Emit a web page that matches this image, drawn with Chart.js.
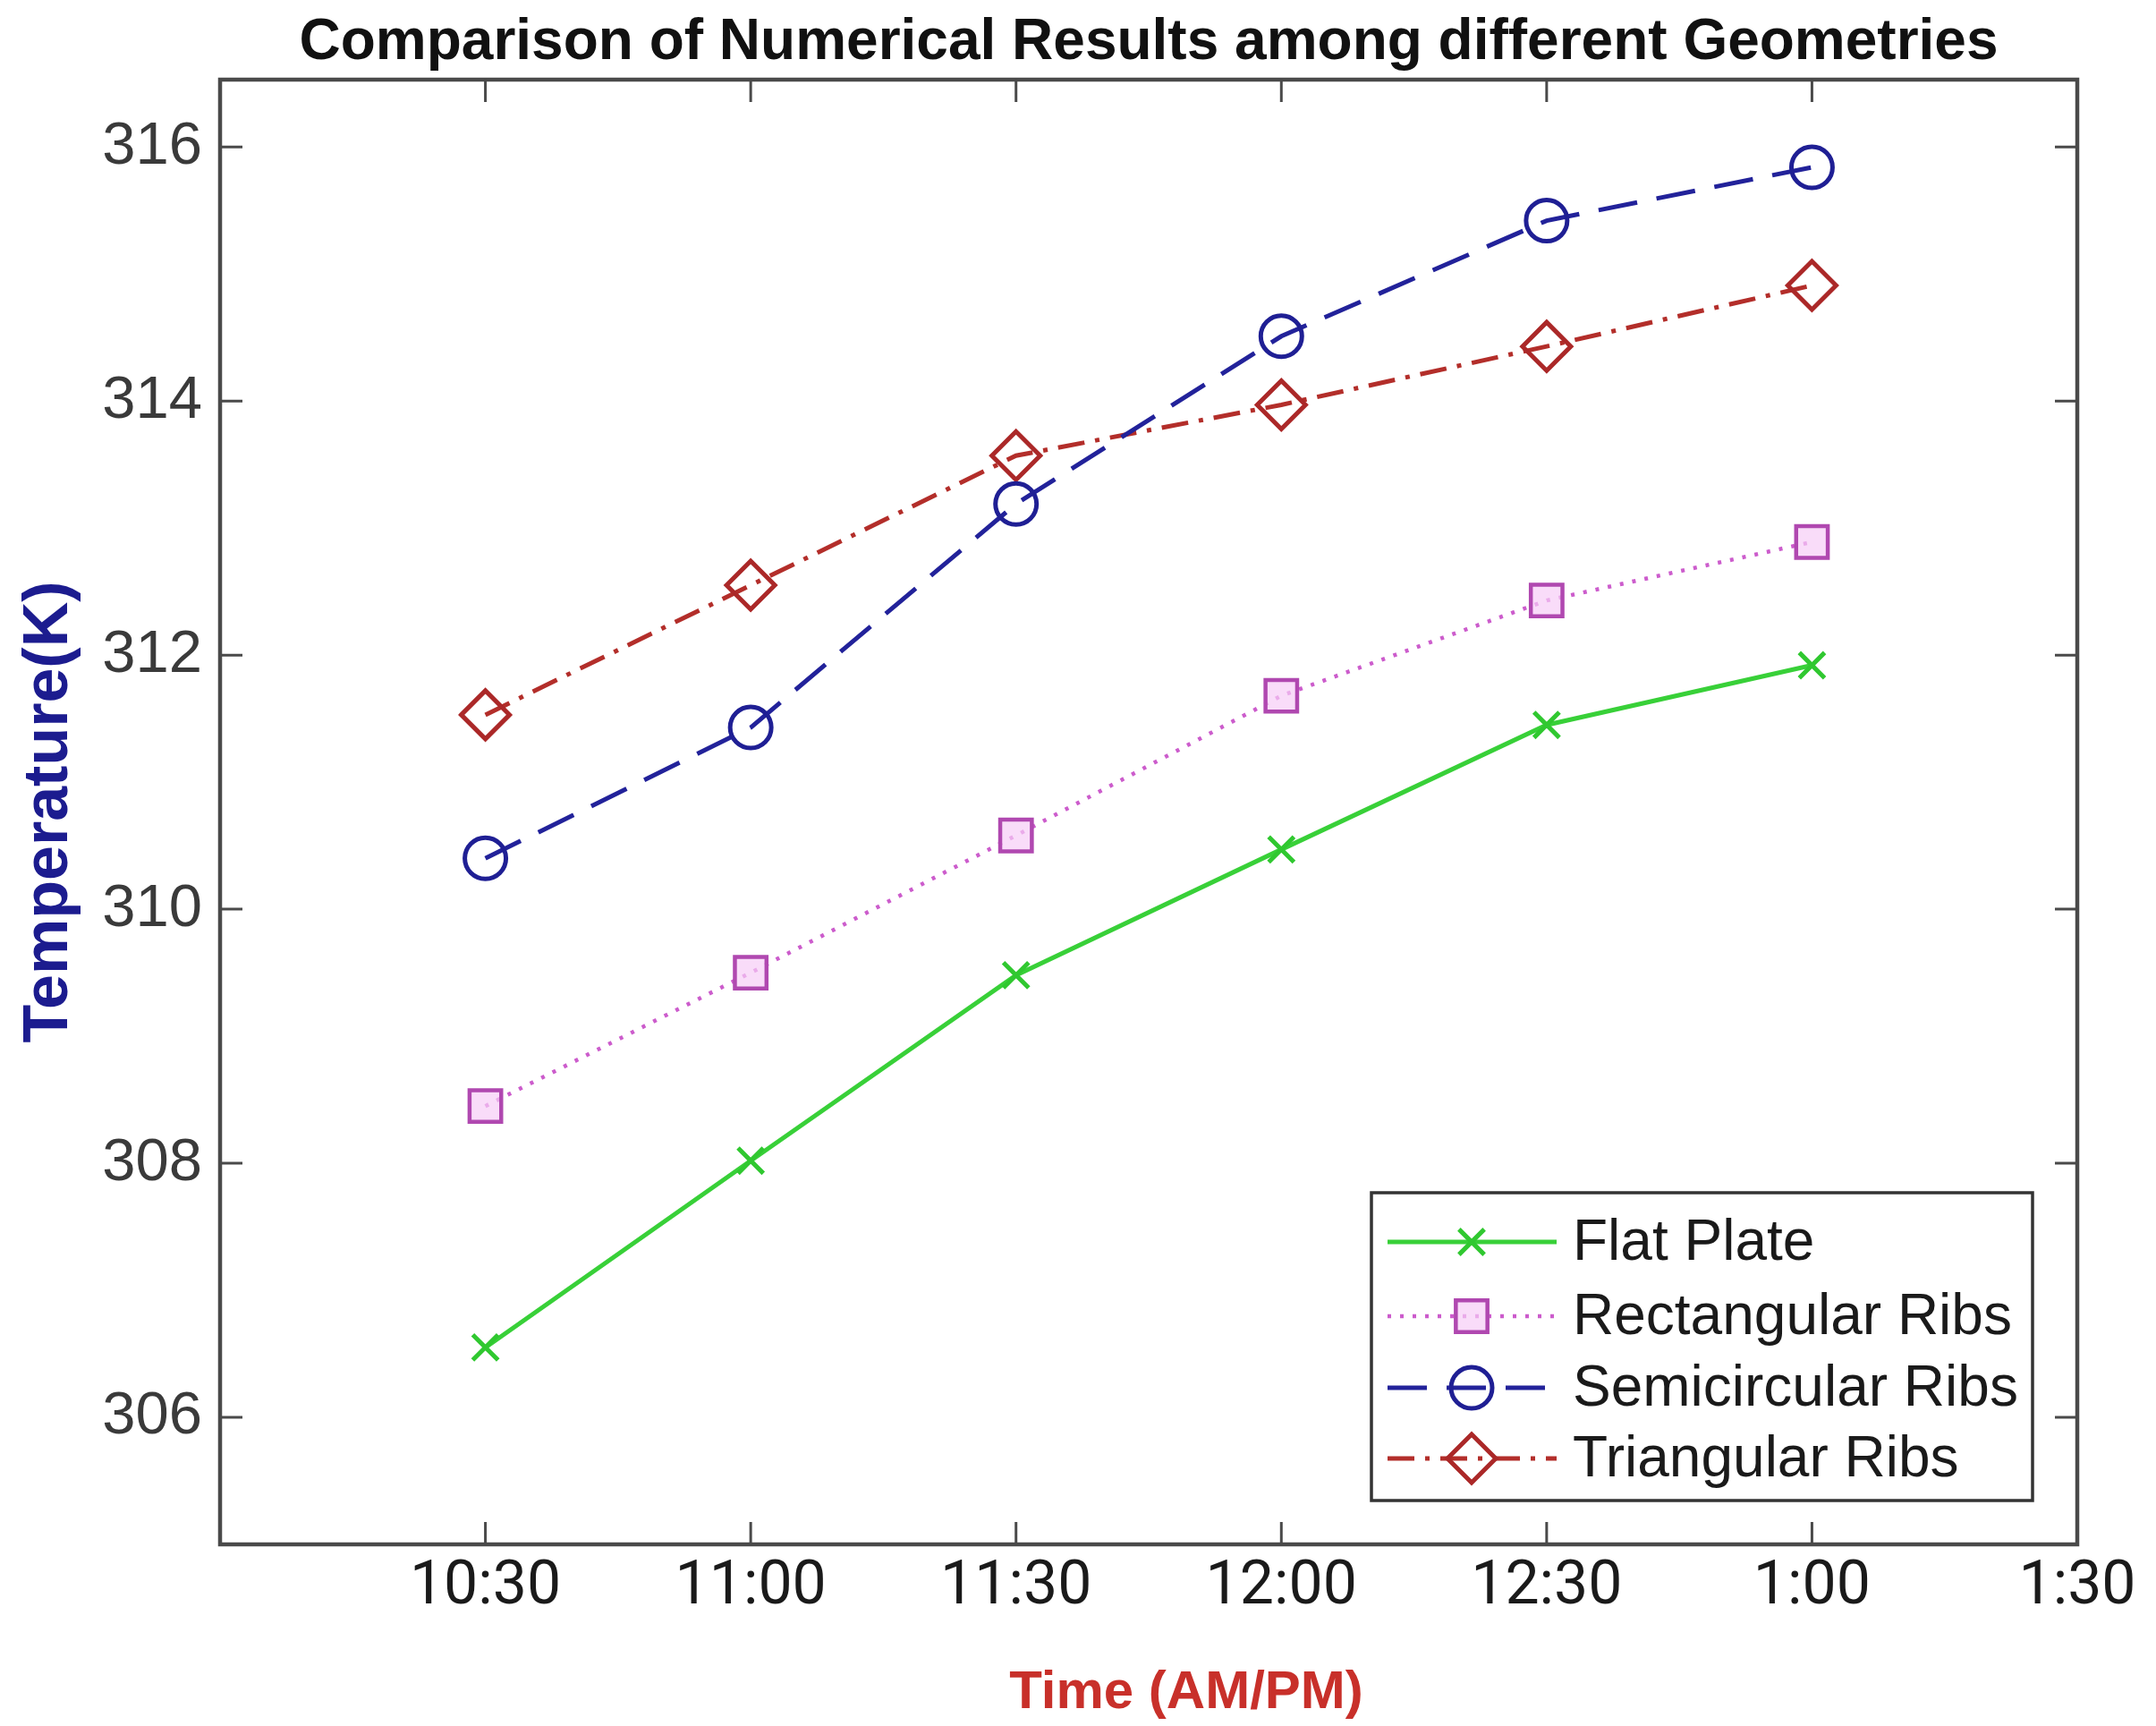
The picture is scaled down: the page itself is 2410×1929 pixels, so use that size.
<!DOCTYPE html>
<html>
<head>
<meta charset="utf-8">
<script src="https://cdn.jsdelivr.net/npm/chart.js@4.4.1/dist/chart.umd.min.js"></script>
<style>
html,body{margin:0;padding:0;background:#ffffff;}
#wrap{width:2410px;height:1929px;}
</style>
</head>
<body>
<div id="wrap"><canvas id="c" width="2410" height="1929"></canvas></div>
<script>
// ---- data ----
const axisLabels = ['10:00', '10:30', '11:00', '11:30', '12:00', '12:30', '1:00', '1:30'];
const times = ['10:30', '11:00', '11:30', '12:00', '12:30', '1:00'];
const yTickValues = [306, 308, 310, 312, 314, 316];
const flatPlate = [306.55, 308.02, 309.48, 310.47, 311.45, 311.92];
const rectangularRibs = [308.45, 309.50, 310.58, 311.68, 312.43, 312.89];
const semicircularRibs = [310.40, 311.43, 313.19, 314.51, 315.42, 315.84];
const triangularRibs = [311.53, 312.55, 313.57, 313.97, 314.43, 314.91];
const seriesNames = ['Flat Plate', 'Rectangular Ribs', 'Semicircular Ribs', 'Triangular Ribs'];
const xTitle = 'Time (AM/PM)';

function pts(arr) { return times.map((t, i) => ({ x: t, y: arr[i] })); }

function drawMarker(ctx, style, x, y, r) {
  ctx.beginPath();
  if (style === 'circle') {
    ctx.arc(x, y, r, 0, Math.PI * 2);
  } else if (style === 'rect') {
    const s = Math.SQRT1_2 * r;
    ctx.rect(x - s, y - s, 2 * s, 2 * s);
  } else if (style === 'rectRot') {
    ctx.moveTo(x - r, y); ctx.lineTo(x, y - r); ctx.lineTo(x + r, y); ctx.lineTo(x, y + r); ctx.closePath();
  } else if (style === 'crossRot') {
    const o = Math.SQRT1_2 * r;
    ctx.moveTo(x - o, y - o); ctx.lineTo(x + o, y + o);
    ctx.moveTo(x + o, y - o); ctx.lineTo(x - o, y + o);
  }
}

const frameAndTicks = {
  id: 'frameAndTicks',
  afterDatasetsDraw(chart) {
    const { ctx, chartArea: a, scales } = chart;
    const tl = 25;
    ctx.save();
    ctx.strokeStyle = '#4a4a4a';
    ctx.lineWidth = 3;
    ctx.beginPath();
    for (let i = 1; i < axisLabels.length; i++) {
      const px = scales.x.getPixelForValue(i);
      ctx.moveTo(px, a.bottom); ctx.lineTo(px, a.bottom - tl);
      ctx.moveTo(px, a.top); ctx.lineTo(px, a.top + tl);
    }
    yTickValues.forEach(v => {
      const py = scales.y.getPixelForValue(v);
      ctx.moveTo(a.left, py); ctx.lineTo(a.left + tl, py);
      ctx.moveTo(a.right, py); ctx.lineTo(a.right - tl, py);
    });
    ctx.stroke();
    ctx.lineWidth = 4.5;
    ctx.strokeRect(a.left, a.top, a.right - a.left, a.bottom - a.top);
    ctx.restore();
  }
};

const xAxisTitle = {
  id: 'xAxisTitle',
  afterDraw(chart) {
    const { ctx } = chart;
    ctx.save();
    ctx.fillStyle = '#c8302a';
    ctx.font = 'bold 60px "Liberation Sans", Arial, sans-serif';
    ctx.textAlign = 'center';
    ctx.textBaseline = 'middle';
    ctx.fillText(xTitle, 1326, 1892);
    ctx.restore();
  }
};

const boxLegend = {
  id: 'boxLegend',
  afterDraw(chart) {
    const { ctx } = chart;
    const bx = 1533, by = 1333, bw = 739, bh = 344;
    const rows = [1388, 1471, 1551, 1630];
    ctx.save();
    ctx.fillStyle = '#ffffff';
    ctx.fillRect(bx, by, bw, bh);
    ctx.strokeStyle = '#333333';
    ctx.lineWidth = 3.5;
    ctx.strokeRect(bx, by, bw, bh);
    chart.data.datasets.forEach((ds, i) => {
      const y = rows[i];
      ctx.save();
      ctx.strokeStyle = ds.borderColor;
      ctx.lineWidth = ds.borderWidth;
      ctx.setLineDash(ds.borderDash || []);
      ctx.beginPath(); ctx.moveTo(1551, y); ctx.lineTo(1740, y); ctx.stroke();
      ctx.setLineDash([]);
      ctx.lineWidth = ds.pointBorderWidth;
      ctx.strokeStyle = ds.pointBorderColor;
      ctx.fillStyle = ds.pointBackgroundColor;
      drawMarker(ctx, ds.pointStyle, 1645, y, ds.pointRadius);
      if (ds.pointStyle !== 'crossRot') ctx.fill();
      ctx.stroke();
      ctx.restore();
      ctx.fillStyle = '#1a1a1a';
      ctx.font = '64px "Liberation Sans", Arial, sans-serif';
      ctx.textBaseline = 'middle';
      ctx.textAlign = 'left';
      ctx.fillText(ds.label, 1758, y + 2);
    });
    ctx.restore();
  }
};

new Chart(document.getElementById('c'), {
  type: 'line',
  data: {
    labels: axisLabels,
    datasets: [
      { label: seriesNames[0], data: pts(flatPlate), borderColor: '#38d038', borderWidth: 5,
        pointStyle: 'crossRot', pointRadius: 20, pointBorderWidth: 5, pointBorderColor: '#30c830',
        pointBackgroundColor: 'rgba(0,0,0,0)', tension: 0 },
      { label: seriesNames[1], data: pts(rectangularRibs), borderColor: '#cc5ccc', borderWidth: 4.5,
        borderDash: [4, 10], pointStyle: 'rect', pointRadius: 25, pointBorderWidth: 4.5,
        pointBorderColor: '#b048b0', pointBackgroundColor: 'rgba(246,205,246,0.7)', tension: 0 },
      { label: seriesNames[2], data: pts(semicircularRibs), borderColor: '#22229a', borderWidth: 5,
        borderDash: [44, 22], pointStyle: 'circle', pointRadius: 23, pointBorderWidth: 5,
        pointBorderColor: '#1f1f94', pointBackgroundColor: 'rgba(0,0,0,0)', tension: 0 },
      { label: seriesNames[3], data: pts(triangularRibs), borderColor: '#b32e2a', borderWidth: 5,
        borderDash: [30, 12, 5, 12], pointStyle: 'rectRot', pointRadius: 27, pointBorderWidth: 5,
        pointBorderColor: '#ab2828', pointBackgroundColor: 'rgba(0,0,0,0)', tension: 0 }
    ]
  },
  options: {
    responsive: false,
    animation: false,
    devicePixelRatio: 1,
    layout: { padding: { left: 0, right: 88, top: 0, bottom: 0 } },
    plugins: {
      legend: { display: false },
      tooltip: { enabled: false },
      title: {
        display: true,
        fullSize: false,
        text: 'Comparison of Numerical Results among different Geometries',
        color: '#111111',
        font: { family: '"Liberation Sans", Arial, sans-serif', size: 64, weight: 'bold', lineHeight: 1.2 },
        padding: { top: 10, bottom: 2.2 }
      }
    },
    scales: {
      x: {
        type: 'category',
        offset: false,
        grid: { display: false, drawTicks: false },
        border: { display: false },
        afterFit(scale) { scale.height = 203; },
        ticks: {
          autoSkip: false, maxRotation: 0, minRotation: 0, padding: 8,
          color: '#1a1a1a',
          font: { family: 'Roboto, "Liberation Sans", sans-serif', size: 68, lineHeight: 1.2 },
          callback(v, i) { return i === 0 ? '' : axisLabels[i]; }
        },
        title: { display: false }
      },
      y: {
        type: 'linear',
        min: 305,
        max: 316.53,
        grid: { display: false, drawTicks: false },
        border: { display: false },
        afterFit(scale) { scale.width = 246; },
        afterBuildTicks(scale) { scale.ticks = yTickValues.map(v => ({ value: v })); },
        ticks: {
          padding: 20,
          color: '#3a3a3a',
          font: { family: '"Liberation Sans", Arial, sans-serif', size: 67, lineHeight: 1.2 },
          callback(v) { return String(v); }
        },
        title: {
          display: true, text: 'Temperature(K)', color: '#1c1c8f',
          font: { family: '"Liberation Sans", Arial, sans-serif', size: 70, weight: 'bold', lineHeight: 1.2 },
          padding: { top: 14, bottom: 0 }
        }
      }
    }
  },
  plugins: [frameAndTicks, boxLegend, xAxisTitle]
});
</script>
</body>
</html>
